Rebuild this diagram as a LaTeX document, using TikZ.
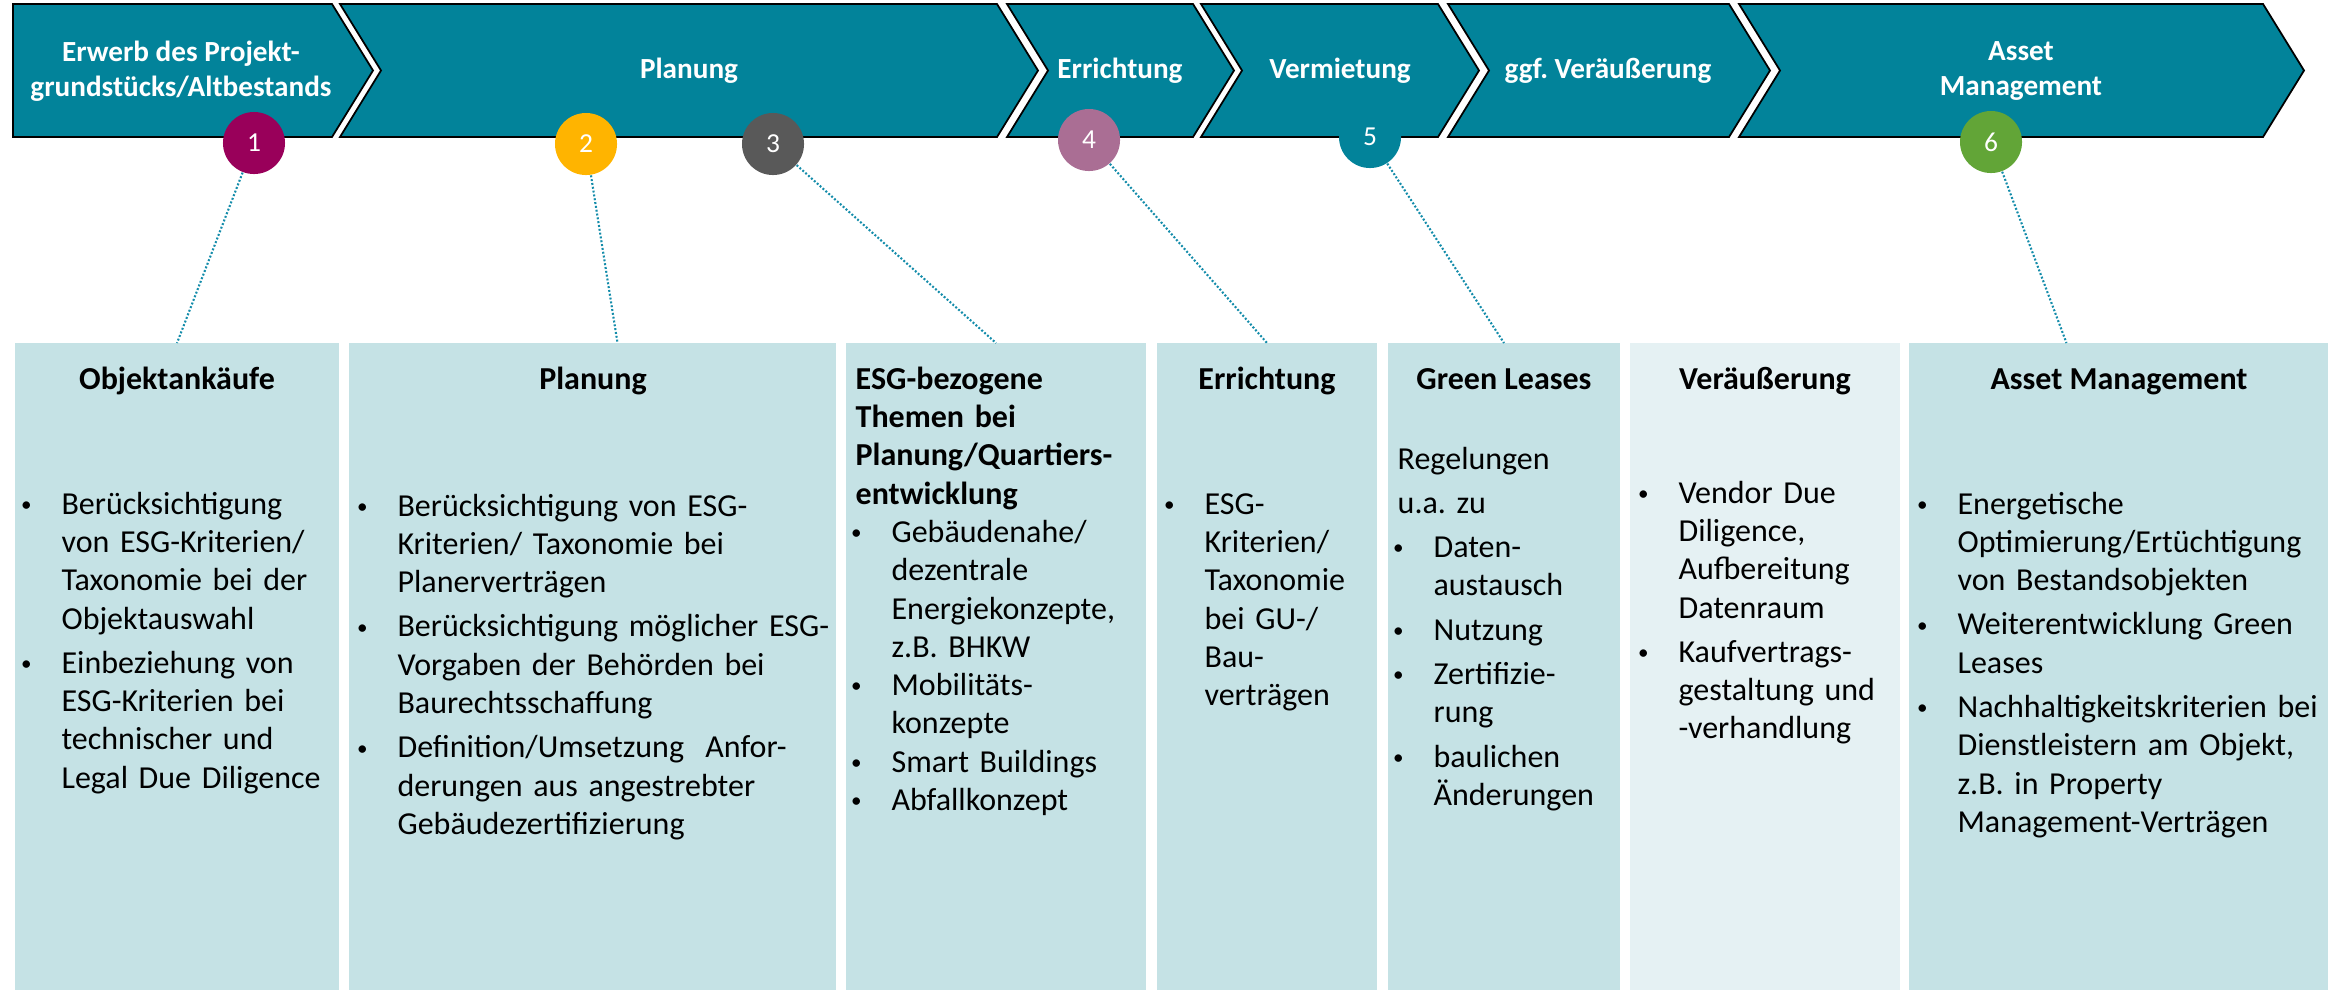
\documentclass[tikz,border=0pt]{standalone}
\usepackage{fontspec}
\setmainfont{Carlito}
\frenchspacing

\definecolor{stepteal}{RGB}{2,131,154}
\definecolor{linkteal}{RGB}{20,140,170}
\definecolor{numOne}{RGB}{153,0,90}
\definecolor{numTwo}{RGB}{255,180,0}
\definecolor{numThree}{RGB}{89,89,89}
\definecolor{numFour}{RGB}{170,110,148}
\definecolor{numSix}{RGB}{98,165,55}
\definecolor{panelfill}{RGB}{197,226,229}
\definecolor{panelpale}{RGB}{229,241,243}

\newcommand\bodyfont{\fontsize{9.1}{10.9}\selectfont}
\newcommand\bul{\raisebox{0.8pt}{\fontsize{6}{6}\selectfont\textbullet}}
% hanging bullet item, text indented by 10.2pt
\newcommand\bitem{\leavevmode\hangindent=10.2pt\hangafter=0\llap{\makebox[0pt]{\bul}\hspace{10pt}}}

\begin{document}
\begin{tikzpicture}[x=0.01cm, y=-0.01cm,
    stepshape/.style={fill=stepteal, draw=black, line width=0.5pt, line join=miter},
    steplabel/.style={text=white, font=\fontsize{8.3}{9.8}\selectfont\bfseries, align=center, inner sep=0pt},
    num/.style={circle, minimum size=0.62cm, inner sep=0pt, text=white, font=\fontsize{7.8}{9}\selectfont},
    panel/.style={anchor=north, minimum height=6.47cm, inner sep=0pt, outer sep=0pt},
    title/.style={anchor=base, inner sep=0pt, font=\bodyfont\bfseries},
    listtext/.style={anchor=base west, inner sep=0pt, text width=5cm, font=\bodyfont,
        execute at begin node={\parskip=1.7pt\relax}},
    link/.style={linkteal, line width=0.6pt, dash pattern=on 0.55pt off 0.55pt}]
    \useasboundingbox (0,0) rectangle (2328,990);

    % Phase chevrons
    \foreach \l/\n/\r/\x/\txt [count=\i] in {
        13/0/332/181/{Erwerb des Projekt-\\grundstücks/Altbestands},
        340/41/997/689/Planung,
        1007/41/1193/1120/Errichtung,
        1201/41/1438/1340/Vermietung,
        1448/41/1729/1608/{ggf. Veräußerung},
        1739/41/2263/2021/{Asset\\Management}} {
        \draw[stepshape] (\l,4) -- (\r,4) -- (\r+41,70.5) -- (\r,137) -- (\l,137) -- (\l+\n,70.5) -- cycle;
        \node[steplabel] (s\i) at (\x,71) {\txt};
    }

    % Numbered markers
    \foreach \x/\y/\f [count=\i] in {254/143/numOne, 586/144/numTwo, 773/144/numThree,
        1089/140/numFour, 1370/137/stepteal, 1991/142/numSix} {
        \node[num, fill=\f] (c\i) at (\x,\y) {\i};
    }

    % Topic panels
    \foreach \l/\r/\f [count=\i] in {15/339/panelfill, 349/836/panelfill, 846/1146/panelfill,
        1157/1377/panelfill, 1388/1620/panelfill, 1630/1900/panelpale, 1909/2328/panelfill} {
        \node[panel, fill=\f, minimum width={(\r-\l)*0.01cm}] (b\i) at ({(\l+\r)/2},343) {};
    }

    % Panel headings
    \foreach \x/\txt [count=\i] in {177/Objektankäufe, 593/Planung, 1267/Errichtung,
        1504/Green Leases, 1765/Veräußerung, 2119/Asset Management} {
        \node[title] (h\i) at (\x,389) {\txt};
    }

    \node[listtext] (t1) at (25,514) {\bitem Berücksichtigung\newline von ESG-Kriterien/\newline Taxonomie bei der\newline Objektauswahl\par
        \bitem Einbeziehung von\newline ESG-Kriterien bei\newline technischer und\newline Legal Due Diligence\par};
    \node[listtext] (t2) at (361,516) {\bitem Berücksichtigung von ESG-\newline Kriterien/ Taxonomie bei\newline Planerverträgen\par
        \bitem Berücksichtigung möglicher ESG-\newline Vorgaben der Behörden bei\newline Baurechtsschaffung\par
        \bitem Definition/Umsetzung\ \ Anfor-\newline derungen aus angestrebter\newline Gebäudezertifizierung\par};
    \node[listtext] (t3) at (855,389) {\parskip=0pt\textbf{ESG-bezogene\newline Themen bei\newline Planung/Quartiers-\newline entwicklung}\par
        \bitem Gebäudenahe/\newline dezentrale\newline Energiekonzepte,\newline z.B. BHKW\par
        \bitem Mobilitäts-\newline konzepte\par
        \bitem Smart Buildings\par
        \bitem Abfallkonzept\par};
    \node[listtext] (t4) at (1168,514) {\bitem ESG-\newline Kriterien/\newline Taxonomie\newline bei GU-/\newline Bau-\newline verträgen\par};
    \node[listtext] (t5) at (1397,469) {Regelungen\par u.a. zu\par
        \bitem Daten-\newline austausch\par
        \bitem Nutzung\par
        \bitem Zertifizie-\newline rung\par
        \bitem baulichen\newline Änderungen\par};
    \node[listtext] (t6) at (1642,503) {\bitem Vendor Due\newline Diligence,\newline Aufbereitung\newline Datenraum\par
        \bitem Kaufvertrags-\newline gestaltung und\newline -verhandlung\par};
    \node[listtext] (t7) at (1921,514) {\bitem Energetische\newline Optimierung/Ertüchtigung\newline von Bestandsobjekten\par
        \bitem Weiterentwicklung Green\newline Leases\par
        \bitem Nachhaltigkeitskriterien bei\newline Dienstleistern am Objekt,\newline z.B. in Property\newline Management-Verträgen\par};

    % Dotted links from markers to panels
    \draw[link] (c1) -- (b1.north);
    \draw[link] (c2) -- ([xshift=0.25cm]b2.north);
    \draw[link] (c3) -- (b3.north);
    \draw[link] (c4) -- (b4.north);
    \draw[link] (c5) -- (b5.north);
    \draw[link] (c6) -- ([xshift=-0.52cm]b7.north);
\end{tikzpicture}
\end{document}
